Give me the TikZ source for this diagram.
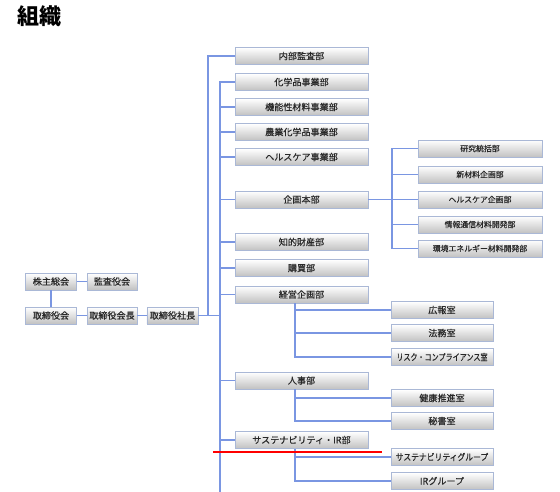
\documentclass[tikz,border=0pt]{standalone}
\usepackage{fontspec}
\newfontfamily\jp[FakeBold=0.5]{Noto Sans CJK JP}
\newfontfamily\jptitle{Noto Sans CJK JP}
\definecolor{linkblue}{RGB}{122,150,226}
\definecolor{boxline}{RGB}{170,184,214}
\definecolor{textgray}{RGB}{40,40,40}
\newcommand{\squeeze}[2]{\scalebox{#1}[1]{#2}}
\tikzset{
  unit/.style={draw=boxline,top color=white,bottom color=black!24,inner sep=0pt,
    minimum height=12.4pt,text=textgray,font=\jp\fontsize{6.8}{8}\selectfont},
  exec/.style={unit,minimum width=38.5pt},
  dept/.style={unit,minimum width=99.75pt},
  lab/.style={unit,minimum width=93pt,minimum height=12.75pt,font=\jp\fontsize{5.9}{7}\selectfont},
  office/.style={unit,minimum width=76.5pt},
  link/.style={linkblue,line width=0.8pt}
}

\begin{document}
\begin{tikzpicture}[x=0.75pt,y=-0.75pt]
  \useasboundingbox (0,0) rectangle (560,492);
  \node[font=\jptitle\bfseries\fontsize{16.5}{18}\selectfont,anchor=west,inner sep=0pt] (soshiki) at (17,16) {組織};

  \node[exec] (kabu) at (51,281.5) {株主総会};
  \node[exec,minimum width=37.5pt] (kansa) at (112,281.5) {監査役会};
  \node[exec] (tori) at (51,315.5) {取締役会};
  \node[exec,minimum width=37.5pt] (kaicho) at (112,315.5) {取締役会長};
  \node[exec] (shacho) at (172.5,315.5) {取締役社長};
  \coordinate (jct) at (220,315.5);
  \coordinate (jct1) at (208,315.5);
  \coordinate (busend) at (220,492);
  \draw[link] (kabu) -- (kansa);
  \draw[link] (kabu) -- (tori);
  \draw[link] (tori) -- (kaicho);
  \draw[link] (kaicho) -- (shacho);
  \draw[link] (shacho) -- (jct);

  \node[dept] (naibu) at (301.5,56) {内部監査部};
  \draw[link] (naibu.west) -| (jct1);
  \foreach \id/\y/\txt in {kagaku/82/化学品事業部, kino/107/機能性材料事業部,
      nogyo/132/農業化学品事業部, health/157/ヘルスケア事業部, kikaku/199.5/企画本部,
      chiteki/242/知的財産部, kobai/268/購買部, keiei/294.5/経営企画部,
      jinji/380.5/人事部, sus/440/サステナビリティ・IR部} {
    \node[dept] (\id) at (301.5,\y) {\txt};
    \draw[link] (\id.west) -- (\id.west -| busend);
  }
  \draw[link] (kagaku.west) -| (busend);

  \coordinate (kjct) at (392,199.5);
  \draw[link] (kikaku.east) -- (kjct);
  \foreach \id/\y/\txt in {kenkyu/148.5/研究統括部, shinzai/174.5/新材料企画部,
      hcplan/199.5/ヘルスケア企画部, joho/224.5/情報通信材料開発部,
      kankyo/248.5/環境エネルギー材料開発部} {
    \node[lab] (\id) at (480,\y) {\txt};
    \draw[link] (\id.west) -| (kjct);
  }

  \foreach \id/\y/\txt/\up in {koho/310/広報室/keiei, homu/333/法務室/keiei,
      risk/357/\squeeze{0.78}{リスク・コンプライアンス室}/keiei,
      kenko/398/健康推進室/jinji, hisho/421/秘書室/jinji,
      susg/457/\squeeze{0.86}{サステナビリティグループ}/sus, irg/481/IRグループ/sus} {
    \node[office] (\id) at (442,\y) {\txt};
    \draw[link] (\id.west) -| ([xshift=-4.9pt]\up.south);
  }

  \draw[red,line width=1.6pt] (213,452) -- (382,452);
\end{tikzpicture}
\end{document}
